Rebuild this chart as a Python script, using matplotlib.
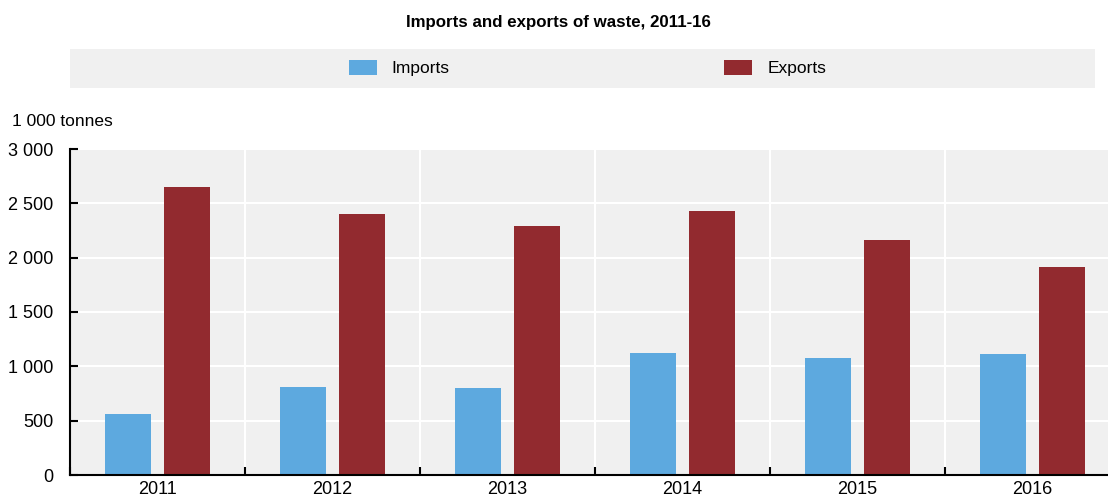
import matplotlib.pyplot as plt
import numpy as np
from matplotlib.patches import Rectangle

# --- data ---
years = ['2011', '2012', '2013', '2014', '2015', '2016']
imports = [560, 810, 800, 1120, 1080, 1110]
exports = [2650, 2400, 2290, 2430, 2160, 1910]
y_ticks = [0, 500, 1000, 1500, 2000, 2500, 3000]
y_labels = ['0', '500', '1 000', '1 500', '2 000', '2 500', '3 000']

plt.rcParams['font.family'] = ['Liberation Sans Narrow', 'Liberation Sans', 'DejaVu Sans']

imp_color = '#5DA9DF'
exp_color = '#922A2F'
bg = '#F0F0F0'

fig = plt.figure(figsize=(11.08, 5.0), dpi=100)
W, H = 1108, 500
# plot area: x 70..1108 px, y 149..475 px (last group is cut by the right edge)
ax = fig.add_axes([70 / W, 1 - 475 / H, (1108 - 70) / W, (475 - 149) / H])
ax.set_facecolor(bg)

x = np.arange(len(years))
bw = 0.263
off = 0.169
ax.bar(x - off, imports, bw, color=imp_color, zorder=3, label='Imports')
ax.bar(x + off, exports, bw, color=exp_color, zorder=3, label='Exports')

ax.set_yticks(y_ticks)
ax.set_yticklabels(y_labels)
ax.set_xticks(x)
ax.set_xticklabels(years)
ax.set_xticks(np.arange(-0.5, 6, 1), minor=True)
ax.set_xlim(-0.5, 5.5 - 12 / 175)
ax.set_ylim(0, 3000)
ax.tick_params(axis='x', which='major', length=0, labelsize=13, pad=4)
ax.tick_params(axis='x', which='minor', direction='in', length=6, width=1.5)
ax.tick_params(axis='y', direction='in', length=6, width=1.5, labelsize=13, pad=12)

ax.grid(axis='y', color='white', linewidth=1.5, zorder=1)
ax.grid(axis='x', which='minor', color='white', linewidth=1.5, zorder=1)

for s in ['top', 'right']:
    ax.spines[s].set_visible(False)
for s in ['left', 'bottom']:
    ax.spines[s].set_linewidth(1.5)
    ax.spines[s].set_zorder(4)

# legend band
fig.patches.append(Rectangle((70 / W, 1 - 88 / H), (1095 - 70) / W, 39 / H,
                             transform=fig.transFigure, facecolor=bg,
                             edgecolor='none', zorder=0))
fig.patches.append(Rectangle((349 / W, 1 - 75 / H), 28 / W, 15 / H,
                             transform=fig.transFigure, facecolor=imp_color))
fig.patches.append(Rectangle((724 / W, 1 - 75 / H), 28 / W, 15 / H,
                             transform=fig.transFigure, facecolor=exp_color))
fig.text(391 / W, 1 - 68 / H, 'Imports', fontsize=12.5, va='center', ha='left')
fig.text(768 / W, 1 - 68 / H, 'Exports', fontsize=12.5, va='center', ha='left')

fig.text(558 / W, 1 - 22 / H, 'Imports and exports of waste, 2011-16',
         fontsize=12.2, fontweight='bold', ha='center', va='center')
fig.text(12 / W, 1 - 122 / H, '1 000 tonnes', fontsize=12.5, ha='left', va='center')

fig.savefig('out.png', dpi=100)
